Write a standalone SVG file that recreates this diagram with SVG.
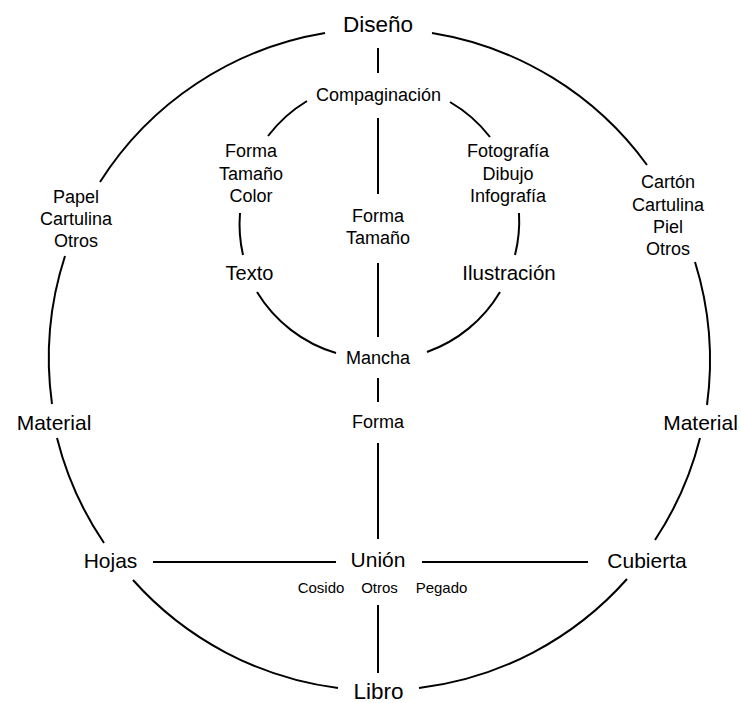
<svg xmlns="http://www.w3.org/2000/svg" width="741" height="703" viewBox="0 0 741 703">
<style>
text{font-family:"Liberation Sans",Arial,sans-serif;fill:#000;text-anchor:middle}
.big{font-size:22.5px}
.lbl{font-size:21px}
.mid{font-size:20px}
.sm{font-size:18px}
.xs{font-size:15px}
#connectors path,#connectors line{fill:none;stroke:#000;stroke-width:2}
</style>
<rect width="741" height="703" fill="#fff"/>
<g id="connectors">
<path d="M325,33 A331,331 0 0 0 100,182"/>
<path d="M65,256 A331,331 0 0 0 52,404"/>
<path d="M57,438 A331,331 0 0 0 104,543"/>
<path d="M133,580 A331,331 0 0 0 338,688"/>
<path d="M432,33 A331,331 0 0 1 647,165"/>
<path d="M695,262 A331,331 0 0 1 707,405"/>
<path d="M700,438 A331,331 0 0 1 655,540"/>
<path d="M627,579 A331,331 0 0 1 419,688"/>
<path d="M307,101 A139,139 0 0 0 268,136"/>
<path d="M240,213 A139,139 0 0 0 243,255"/>
<path d="M257,292 A139,139 0 0 0 336,353"/>
<path d="M427,352 A139,139 0 0 0 500,292"/>
<path d="M515,255 A139,139 0 0 0 519,213"/>
<path d="M490,137 A139,139 0 0 0 450,102"/>
<line x1="378" y1="48" x2="378" y2="73"/>
<line x1="378" y1="118" x2="378" y2="194"/>
<line x1="378" y1="263" x2="378" y2="337"/>
<line x1="378" y1="378" x2="378" y2="402"/>
<line x1="378" y1="443" x2="378" y2="539"/>
<line x1="378" y1="605" x2="378" y2="673"/>
<line x1="153" y1="562" x2="336" y2="562"/>
<line x1="422" y1="562" x2="588" y2="562"/>
</g>
<g id="diseno"><text class="big" x="378" y="32">Diseño</text></g>
<g id="compaginacion"><text class="sm" x="378.5" y="101">Compaginación</text></g>
<g id="texto-props"><text class="sm" x="251" y="157">Forma</text><text class="sm" x="251" y="179.5">Tamaño</text><text class="sm" x="251" y="202">Color</text></g>
<g id="ilustracion-props"><text class="sm" x="508" y="157">Fotografía</text><text class="sm" x="508" y="179.5">Dibujo</text><text class="sm" x="508" y="202">Infografía</text></g>
<g id="mancha-props"><text class="sm" x="378" y="222">Forma</text><text class="sm" x="378" y="244">Tamaño</text></g>
<g id="texto"><text class="mid" x="249.5" y="280">Texto</text></g>
<g id="ilustracion"><text x="509" y="280" style="font-size:20.5px">Ilustración</text></g>
<g id="mancha"><text class="sm" x="378" y="364">Mancha</text></g>
<g id="forma"><text class="sm" x="378" y="428">Forma</text></g>
<g id="hojas-material-list"><text class="sm" x="76" y="203">Papel</text><text class="sm" x="76" y="225">Cartulina</text><text class="sm" x="76" y="247">Otros</text></g>
<g id="cubierta-material-list"><text class="sm" x="668" y="188">Cartón</text><text class="sm" x="668" y="210.5">Cartulina</text><text class="sm" x="668" y="233">Piel</text><text class="sm" x="668" y="255">Otros</text></g>
<g id="material-left"><text class="lbl" x="54" y="430">Material</text></g>
<g id="material-right"><text class="lbl" x="700.5" y="430">Material</text></g>
<g id="hojas"><text class="lbl" x="110.5" y="568">Hojas</text></g>
<g id="union"><text class="lbl" x="378" y="567">Unión</text></g>
<g id="cubierta"><text class="lbl" x="647" y="568">Cubierta</text></g>
<g id="union-types"><text class="xs" x="321" y="593">Cosido</text><text class="xs" x="379.5" y="593">Otros</text><text class="xs" x="441.5" y="593">Pegado</text></g>
<g id="libro"><text class="big" x="378.5" y="699">Libro</text></g>
</svg>
